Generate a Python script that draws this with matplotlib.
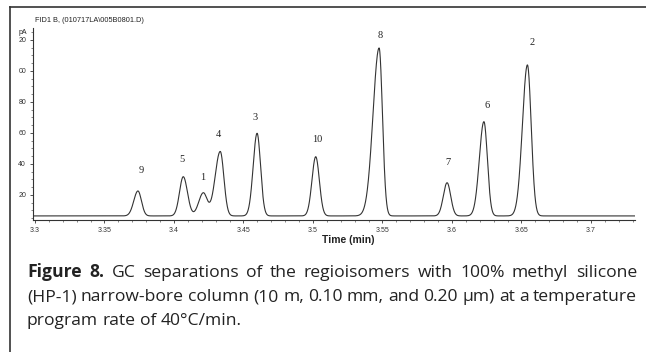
import numpy as np
import matplotlib
matplotlib.use("Agg")
import matplotlib.pyplot as plt
from matplotlib.lines import Line2D
from matplotlib.ticker import MultipleLocator, FixedLocator

# peak table (retention time in min, apex height above baseline in pA)
peak_labels = ["9", "5", "1", "4", "3", "10", "8", "7", "6", "2"]
peak_times = [3.3741, 3.4067, 3.4211, 3.4333, 3.4598, 3.5020, 3.5476, 3.5965, 3.6230, 3.6543]
peak_heights = [16.1, 25.3, 14.8, 41.6, 53.3, 38.2, 108.3, 21.4, 60.8, 97.4]
# leading / tailing widths (sigma, min)
sigma_lead = [0.0030, 0.0027, 0.0033, 0.0037, 0.0028, 0.0027, 0.0044, 0.0027, 0.0033, 0.0036]
sigma_tail = [0.0025, 0.0030, 0.0028, 0.0026, 0.0025, 0.0026, 0.0024, 0.0026, 0.0025, 0.0027]
baseline = 6.5

x_ticks = [3.3, 3.35, 3.4, 3.45, 3.5, 3.55, 3.6, 3.65, 3.7]
x_ticklabels = ["3.3", "3.35", "3.4", "3.45", "3.5", "3.55", "3.6", "3.65", "3.7"]
y_ticks = [20, 40, 60, 80, 100, 120]
y_ticklabels = ["20", "40", "60", "80", "00", "20"]

header = "FID1 B, (010717LA\\005B0801.D)"
caption_bold = "Figure 8."
caption_lines = [
    "GC separations of the regioisomers with 100% methyl silicone",
    "(HP-1) narrow-bore column (10 m, 0.10 mm, and 0.20 \u00b5m) at a temperature",
    "program rate of 40\u00b0C/min.",
]

W, H = 646, 352
fig = plt.figure(figsize=(W / 100, H / 100), dpi=100)
ax = fig.add_axes([33 / W, 1 - 220 / H, (635 - 33) / W, (220 - 28) / H])

xmin, xmax = 3.2986, 3.7317
ymin, ymax = 3.87, 127.7
t = np.linspace(xmin, xmax, 4000)
signal = np.full_like(t, baseline)
for tr, h, sl, st in zip(peak_times, peak_heights, sigma_lead, sigma_tail):
    s = np.where(t < tr, sl, st)
    signal += h * np.exp(-0.5 * ((t - tr) / s) ** 2)

ax.plot(t, signal, color="#333333", lw=0.8)
ax.set_xlim(xmin, xmax)
ax.set_ylim(ymin, ymax)

for sp in ["top", "right"]:
    ax.spines[sp].set_visible(False)
for sp in ["left", "bottom"]:
    ax.spines[sp].set_linewidth(0.8)
    ax.spines[sp].set_color("#333333")

ax.xaxis.set_major_locator(FixedLocator(x_ticks))
ax.set_xticklabels(x_ticklabels, fontsize=5, family="Liberation Sans")
ax.xaxis.set_minor_locator(MultipleLocator(0.01))
ax.yaxis.set_major_locator(FixedLocator(y_ticks))
ax.set_yticklabels(y_ticklabels, fontsize=5, family="Liberation Sans")
ax.yaxis.set_minor_locator(MultipleLocator(5))
ax.tick_params(which="major", direction="out", length=2.5, width=0.6, colors="#333333", pad=2.5)
ax.tick_params(which="minor", direction="out", length=1.2, width=0.5, colors="#555555")

# peak numbers just above each apex (offsets in pixels)
label_offsets = [(3, 20), (-1, 17), (-1, 15), (-2, 17), (-2, 16), (2, 17), (1, 13), (1, 20), (3, 16), (5, 22)]
for lab, tr, h, (dx, dy) in zip(peak_labels, peak_times, peak_heights, label_offsets):
    apex = baseline + h
    ax.annotate(lab, (tr, apex), xytext=(dx * 0.72, dy * 0.72), textcoords="offset points",
                ha="center", va="center", fontsize=7.5, family="Liberation Serif", color="#222222")

fig.text(35 / W, 1 - 20 / H, header, fontsize=5.3, family="Liberation Sans", va="center", ha="left", color="#222222")
fig.text(27 / W, 1 - 32 / H, "pA", fontsize=5, family="Liberation Sans", va="center", ha="right", color="#222222")
fig.text(348 / W, 1 - 240 / H, "Time (min)", fontsize=7.5, fontweight="bold", family="Liberation Sans",
         va="center", ha="center", color="#222222")

# frame lines around the figure
fig.add_artist(Line2D([10 / W, 1], [1 - 7 / H, 1 - 7 / H], color="#333333", lw=1.2))
fig.add_artist(Line2D([10 / W, 10 / W], [0, 1 - 7 / H], color="#333333", lw=1.2))

# caption, justified between x0 and x1 like the printed figure
cap_size = 12.6
cap_font = "Open Sans"
x0, x1 = 27, 637
renderer = fig.canvas.get_renderer()


def word_width(word, weight):
    tmp = fig.text(0, 0, word, fontsize=cap_size, fontweight=weight, family=cap_font)
    w = tmp.get_window_extent(renderer).width
    tmp.remove()
    return w


def draw_line(words, y, justify=True):
    widths = [word_width(w, wt) for w, wt in words]
    space = word_width("a a", "normal") - word_width("aa", "normal")
    if justify and len(words) > 1:
        gap = (x1 - x0 - sum(widths)) / (len(words) - 1)
    else:
        gap = space
    x = x0
    for (w, wt), ww in zip(words, widths):
        fig.text(x / W, 1 - y / H, w, fontsize=cap_size, fontweight=wt, family=cap_font,
                 va="baseline", ha="left", color="#222222")
        x += ww + gap


line1 = [(w, "bold") for w in caption_bold.split()] + [(w, "normal") for w in caption_lines[0].split()]
draw_line(line1, 277)
draw_line([(w, "normal") for w in caption_lines[1].split()], 301)
draw_line([(w, "normal") for w in caption_lines[2].split()], 325, justify=False)

fig.savefig("out.png", dpi=100)
